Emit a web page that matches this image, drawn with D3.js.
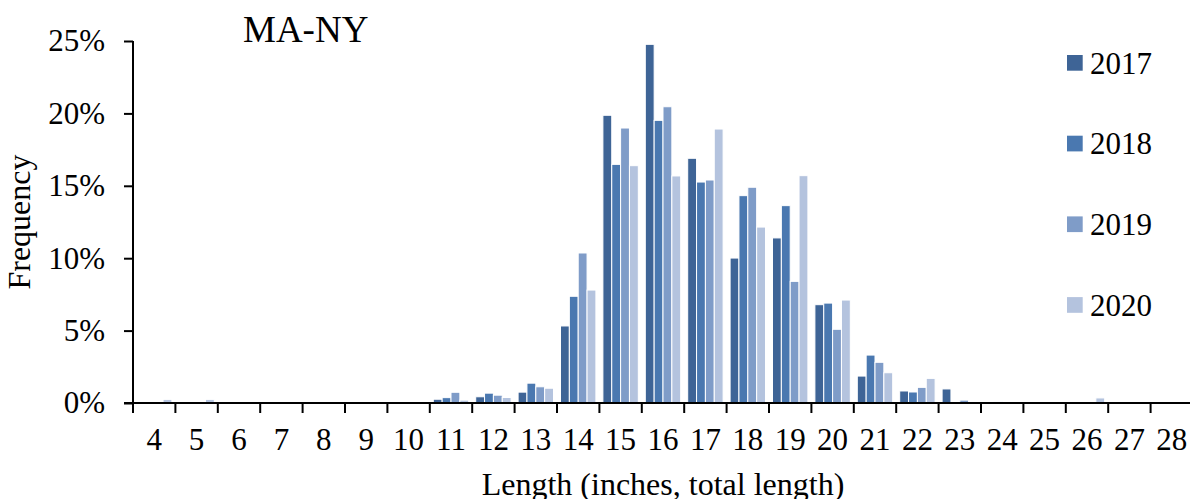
<!DOCTYPE html>
<html>
<head>
<meta charset="utf-8">
<script src="https://cdn.jsdelivr.net/npm/d3@7"></script>
<style>
  body { margin: 0; background: #fff; }
  text { font-family: "Liberation Serif", "Times New Roman", serif; fill: #000; }
</style>
</head>
<body>
<svg id="chart" width="1190" height="499"></svg>
<script>
// Length classes (inches, total length)
const lengths = [4, 5, 6, 7, 8, 9, 10, 11, 12, 13, 14, 15, 16, 17, 18, 19, 20, 21, 22, 23, 24, 25, 26, 27, 28];
const years = ["2017", "2018", "2019", "2020"];

// Frequency in percent, one value per length class
const freq2017 = [0, 0, 0, 0, 0, 0, 0.02, 0.26, 0.43, 0.75, 5.32, 19.87, 24.77, 16.9, 10.01, 11.4, 6.79, 1.86, 0.83, 0.97, 0, 0, 0, 0, 0];
const freq2018 = [0, 0, 0, 0, 0, 0.03, 0.03, 0.37, 0.68, 1.37, 7.37, 16.48, 19.52, 15.26, 14.32, 13.63, 6.9, 3.31, 0.76, 0, 0.1, 0, 0, 0, 0];
const freq2019 = [0, 0, 0, 0, 0, 0, 0.03, 0.74, 0.54, 1.12, 10.36, 18.99, 20.46, 15.4, 14.9, 8.4, 5.09, 2.81, 1.08, 0.2, 0, 0, 0, 0, 0];
const freq2020 = [0.25, 0.25, 0, 0, 0, 0, 0.05, 0.2, 0.38, 1.02, 7.8, 16.39, 15.68, 18.92, 12.15, 15.7, 7.11, 2.09, 1.7, 0.1, 0, 0, 0.35, 0, 0];

const yTicks = [0, 5, 10, 15, 20, 25];
const colors = ["#3e6496", "#4a78b0", "#7f9cc8", "#b4c3de"];

const series = [freq2017, freq2018, freq2019, freq2020];

const svg = d3.select("#chart");

const plotLeft = 133, plotRight = 1193, plotTop = 41, plotBottom = 403;

const x = d3.scaleBand()
  .domain(lengths)
  .range([plotLeft, plotRight])
  .paddingInner(0.165)
  .paddingOuter(0.0825);

const xs = d3.scaleBand()
  .domain(years)
  .range([0, x.bandwidth()]);

const y = d3.scaleLinear()
  .domain([0, 25])
  .range([plotBottom, plotTop]);

const color = d3.scaleOrdinal().domain(years).range(colors);

// Bars
lengths.forEach((len, i) => {
  const g = svg.append("g").attr("transform", `translate(${x(len)},0)`);
  years.forEach((yr, j) => {
    const v = series[j][i];
    if (v <= 0) return;
    g.append("rect")
      .attr("x", xs(yr))
      .attr("y", y(v))
      .attr("width", xs.bandwidth())
      .attr("height", y(0) - y(v))
      .attr("fill", color(yr))
      .attr("stroke", "#fff")
      .attr("stroke-width", 1);
  });
});

// Y axis
const yAxis = svg.append("g")
  .attr("transform", `translate(${plotLeft},0)`)
  .call(d3.axisLeft(y).tickValues(yTicks).tickFormat(d => d + "%").tickSize(9).tickPadding(19));
yAxis.select(".domain").attr("stroke", "#000").attr("stroke-width", 2).attr("d", `M0,${plotTop}V${plotBottom}`);
yAxis.selectAll(".tick line").attr("stroke", "#000").attr("stroke-width", 2);
yAxis.selectAll(".tick text")
  .style("font-family", "'Liberation Serif', 'Times New Roman', serif")
  .style("font-size", "31px");

// X axis labels
const xAxis = svg.append("g")
  .attr("transform", `translate(0,${plotBottom})`)
  .call(d3.axisBottom(x).tickSize(0).tickPadding(25));
xAxis.select(".domain").remove();
xAxis.selectAll(".tick text")
  .style("font-family", "'Liberation Serif', 'Times New Roman', serif")
  .style("font-size", "31px");

// X axis line and boundary ticks
svg.append("line")
  .attr("x1", plotLeft - 9).attr("x2", plotRight)
  .attr("y1", plotBottom).attr("y2", plotBottom)
  .attr("stroke", "#000").attr("stroke-width", 2);

const boundaries = lengths.map(d => x(d) - x.step() * x.paddingInner() / 2);
boundaries.push(boundaries[boundaries.length - 1] + x.step());
svg.append("g").selectAll("line")
  .data(boundaries)
  .join("line")
  .attr("x1", d => d).attr("x2", d => d)
  .attr("y1", plotBottom).attr("y2", plotBottom + 10)
  .attr("stroke", "#000").attr("stroke-width", 2);

// Titles
svg.append("text")
  .attr("x", 243).attr("y", 42)
  .style("font-size", "37px")
  .text("MA-NY");

svg.append("text")
  .attr("transform", `translate(30,${(plotTop + plotBottom) / 2}) rotate(-90)`)
  .attr("text-anchor", "middle")
  .style("font-size", "32px")
  .text("Frequency");

svg.append("text")
  .attr("x", (plotLeft + plotRight) / 2).attr("y", 495)
  .attr("text-anchor", "middle")
  .style("font-size", "32px")
  .text("Length (inches, total length)");

// Legend
const legend = svg.append("g");
years.forEach((yr, i) => {
  const ly = 55 + i * 80.7;
  legend.append("rect")
    .attr("x", 1067).attr("y", ly)
    .attr("width", 15.7).attr("height", 15.7)
    .attr("fill", color(yr));
  legend.append("text")
    .attr("x", 1090).attr("y", ly + 18.5)
    .style("font-size", "31px")
    .text(yr);
});
</script>
</body>
</html>
